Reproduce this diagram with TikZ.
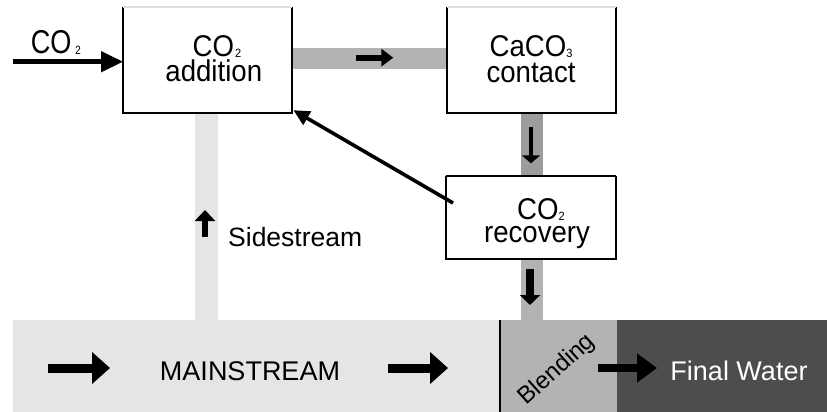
\documentclass[tikz,border=0pt]{standalone}
\usepackage{fontspec}
\setmainfont{Liberation Sans}
\newfontfamily\boxfont[FakeStretch=0.92]{Liberation Sans}
\newfontfamily\cofont[FakeStretch=0.82]{Liberation Sans}
\usetikzlibrary{arrows.meta,calc}
\definecolor{lightbar}{HTML}{E5E5E5}
\definecolor{midbar}{HTML}{B3B3B3}
\definecolor{darkbar}{HTML}{9C9C9C}
\definecolor{finalgray}{HTML}{4D4D4D}
\definecolor{edgegray}{HTML}{DDDDDD}
\tikzset{
  procbox/.style={fill=white, draw=none, inner sep=0},
  boxline/.style={line width=2pt, black},
  topline/.style={line width=1.5pt, edgegray},
  boxtxt/.style={inner sep=0, anchor=base, font=\boxfont\fontsize{30}{30}\selectfont},
  plaintxt/.style={inner sep=0, anchor=base, font=\fontsize{27}{27}\selectfont},
  flowarrow/.style args={#1/#2/#3}{line width=#1pt, -{Triangle[length=#2pt,width=#3pt]}},
}
\newcommand{\subtwo}[1]{\raisebox{-1pt}{\fontsize{12}{12}\selectfont #1}}
\begin{document}
\begin{tikzpicture}[x=1pt,y=-1pt]
\useasboundingbox (0,0) rectangle (827,412);

% streams (bars)
\fill[lightbar] (12.7,320) rectangle (500,412);
\node[inner sep=0, minimum width=487.3pt, minimum height=92pt] (main) at (256.35,366) {};
\fill[lightbar] (195,113) rectangle (217.5,320);
\fill[midbar] (291.7,48) rectangle (447.3,69);
\fill[darkbar] (521,113) rectangle (543,176.5);
\fill[midbar] (521,258.7) rectangle (543,320);
\fill[midbar] (500,320) rectangle (617,412);
\node[inner sep=0, minimum width=117pt, minimum height=92pt] (blend) at (558.5,366) {};
\fill[finalgray] (617,320) rectangle (827,412);
\node[inner sep=0, minimum width=210pt, minimum height=92pt] (final) at (722,366) {};
\draw[line width=2pt] (blend.north west) -- (blend.south west);

% process boxes
\node[procbox, minimum width=168.4pt, minimum height=106pt] (add) at (207.5,60) {};
\node[procbox, minimum width=168.4pt, minimum height=106pt] (cont) at (531.5,60) {};
\node[procbox, minimum width=170pt, minimum height=82.2pt] (rec) at (530.7,217.6) {};
\foreach \b in {add,cont,rec}{
  \draw[boxline] (\b.north west) -- (\b.south west) -- (\b.south east) -- (\b.north east);
}
\draw[topline] (add.north west) -- (add.north east);
\draw[topline] (cont.north west) -- (cont.north east);
\draw[boxline] (rec.north west) -- (rec.north east);

% box texts
\node[boxtxt] (addA) at (217,56.7) {CO\hspace{1pt}\subtwo{2}};
\node[boxtxt] (addB) at (213.8,81.7) {addition};
\node[boxtxt] (contA) at (531,57) {CaCO\subtwo{3}};
\node[boxtxt] (contB) at (531,82) {contact};
\node[boxtxt] (recA) at (541,219) {CO\subtwo{2}};
\node[boxtxt] (recB) at (537,242.5) {recovery};

% CO2 input
\coordinate (coin) at (13,61.7);
\node[inner sep=0, anchor=base, font=\cofont\fontsize{33}{33}\selectfont] (colab) at (55.8,53.3) {CO\hspace{4pt}\subtwo{2}};
\draw[flowarrow=4.5/22/20] (coin) -- (coin -| add.west);

% flow arrows on bars
\coordinate (h1) at (355.7,57.7); \coordinate (h2) at (393.3,57.7);
\draw[flowarrow=6/12/17] (h1) -- (h2);
\coordinate (v1) at (531,126.7); \coordinate (v2) at (531,163.3);
\draw[flowarrow=4/8/18] (v1) -- (v2);
\coordinate (w1) at (530,269); \coordinate (w2) at (530,305);
\draw[flowarrow=8/10/20] (w1) -- (w2);
\coordinate (s1) at (205,236.7); \coordinate (s2) at (205,210);
\draw[flowarrow=5.3/11/20] (s1) -- (s2);
\coordinate (m1) at (48,368); \coordinate (m2) at (110,368);
\draw[flowarrow=9/18/31] (m1) -- (m2);
\coordinate (m3) at (388,368); \coordinate (m4) at (448,368);
\draw[flowarrow=9/18/31] (m3) -- (m4);
\coordinate (f1) at (598,368); \coordinate (f2) at (657,368);
\draw[flowarrow=8.7/20/28] (f1) -- (f2);

% recycle arrow
\draw[flowarrow=3.6/16/15] ($(rec.west)+(7.5,-14.6)$) -- ($(add.south east)+(1.5,-3)$);

% labels
\node[inner sep=0, anchor=base west, font=\fontsize{26.5}{26.5}\selectfont] (side) at (228,246.7) {Sidestream};
\node[plaintxt] (mainlab) at (250,380) {MAINSTREAM};
\node[plaintxt, text=white] (finlab) at (739,380) {Final Water};
\node[inner sep=0, rotate=42, font=\fontsize{24}{24}\selectfont] (blab) at (557,370) {Blending};
\end{tikzpicture}
\end{document}
